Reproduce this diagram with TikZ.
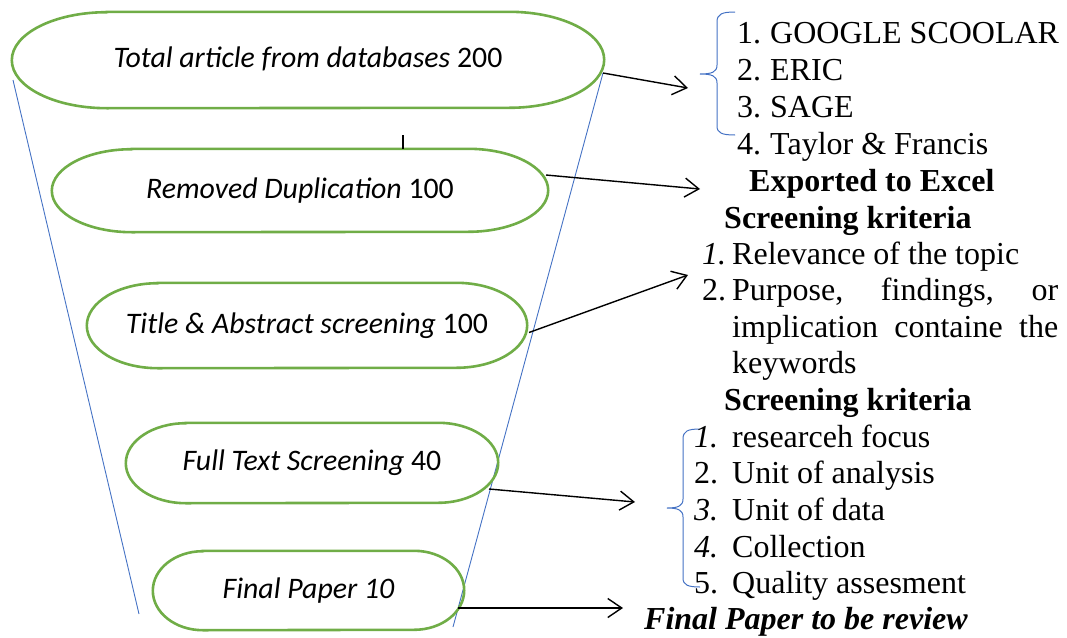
\documentclass[tikz,border=0pt]{standalone}
\usepackage{fontspec}
\setmainfont{Liberation Serif}
\newfontfamily\calfont{Carlito}
\usetikzlibrary{arrows.meta,calc}
\definecolor{tgreen}{HTML}{70AD47}
\definecolor{tblue}{HTML}{4472C4}
% terminator outline around an invisible rectangle node: name, x radius, y radius
\newcommand\drawterm[3]{%
  \draw[termline] ($(#1.north west)+(#2,0)$) -- ($(#1.north east)+(-#2,0)$)
    arc[start angle=-90,end angle=90,x radius=#2,y radius=#3]
    -- ($(#1.south west)+(#2,0)$)
    arc[start angle=90,end angle=270,x radius=#2,y radius=#3] -- cycle;}
\begin{document}
\begin{tikzpicture}[x=1pt,y=-1pt,
  termline/.style={draw=tgreen,line width=2.6pt},
  termbox/.style={inner sep=0pt,font=\calfont\fontsize{29.8}{34}\selectfont},
  funnel/.style={draw=tblue,line width=0.9pt},
  bracepath/.style={draw=tblue,line width=1pt},
  conn/.style={draw=black,line width=1.4pt,-{Straight Barb[length=14pt,width=19pt]}},
  stubline/.style={draw=black,line width=1.4pt},
  txt/.style={anchor=base west,inner sep=0pt,font=\fontsize{32}{37}\selectfont}]
\useasboundingbox (0,0) rectangle (1067,637);

% funnel
\coordinate (fl1) at (13,80);
\coordinate (fl2) at (139,614);
\coordinate (fr1) at (603,73);
\coordinate (fr2) at (453,627);
\draw[funnel] (fl1) -- (fl2);
\draw[funnel] (fr1) -- (fr2);

% stages
\node[termbox,minimum width=592pt,minimum height=96pt] (e1) at (308,60)
  {\raisebox{5pt}{\textit{Total article from databases} 200}};
\node[termbox,minimum width=496pt,minimum height=83pt] (e2) at (300,190.5)
  {\textit{Removed Duplication} 100};
\node[termbox,minimum width=440pt,minimum height=85pt] (e3) at (307,325.5)
  {\textit{Title \& Abstract screening} 100};
\node[termbox,minimum width=372pt,minimum height=80pt] (e4) at (312,463)
  {\textit{Full Text Screening} 40};
\node[termbox,minimum width=311pt,minimum height=79pt] (e5) at (308.5,590.5)
  {\textit{Final Paper 10}};
\drawterm{e1}{95}{48}
\drawterm{e2}{80}{41.5}
\drawterm{e3}{71}{42.5}
\drawterm{e4}{60}{40}
\drawterm{e5}{50}{39.5}

% stub above second stage
\coordinate (s1) at (403,135);
\draw[stubline] (s1) -- (e2.north -| s1);

% arrows
\coordinate (t1) at (688,88);
\coordinate (t2) at (700,189);
\coordinate (t3) at (688,275);
\coordinate (t4) at (635,502);
\coordinate (t5) at (623,608);
\draw[conn] ($(e1.center)+(295,13)$) -- (t1);
\draw[conn] ($(e2.center)+(246,-15.5)$) -- (t2);
\draw[conn] ($(e3.center)+(222,7)$) -- (t3);
\draw[conn] ($(e4.center)+(177,26)$) -- (t4);
\draw[conn] ($(e5.center)+(149.5,17.5)$) -- (t5);

% braces
\draw[bracepath] (735,12) .. controls (722,12) and (717,14) .. (717,22) -- (717,65)
  .. controls (717,72) and (712,74) .. (700,74)
  .. controls (712,74) and (717,76) .. (717,83) -- (717,126)
  .. controls (717,133) and (722,135) .. (735,135);
\draw[bracepath] (700,429) .. controls (688,429) and (683,431) .. (683,439) -- (683,499)
  .. controls (683,506) and (678,508) .. (667,508)
  .. controls (678,508) and (683,510) .. (683,517) -- (683,578)
  .. controls (683,585) and (688,587) .. (700,587);

% text on the right
\node[txt] (g1) at (737,43) {\makebox[33pt][l]{1.}GOOGLE SCOOLAR};
\node[txt] (g2) at (737,80) {\makebox[33pt][l]{2.}ERIC};
\node[txt] (g3) at (737,117) {\makebox[33pt][l]{3.}SAGE};
\node[txt] (g4) at (737,154) {\makebox[33pt][l]{4.}Taylor \& Francis};
\node[txt] (ex) at (749,191) {\textbf{Exported to Excel}};
\node[txt] (sk1) at (724,228) {\textbf{Screening kriteria}};
\node[txt] (r1) at (702,264) {\makebox[30pt][l]{\textit{1.}}Relevance of the topic};
\node[txt] (r2) at (702,300) {\makebox[30pt][l]{2.}\hbox to 326pt{Purpose,\hfill findings,\hfill or}};
\node[txt] (r3) at (732,337) {\hbox to 326pt{implication\hfill containe\hfill the}};
\node[txt] (r4) at (732,373) {keywords};
\node[txt] (sk2) at (724,410) {\textbf{Screening kriteria}};
\node[txt] (f1) at (694,447) {\makebox[38pt][l]{\textit{1.}}researceh focus};
\node[txt] (f2) at (694,483) {\makebox[38pt][l]{2.}Unit of analysis};
\node[txt] (f3) at (694,520) {\makebox[38pt][l]{\textit{3.}}Unit of data};
\node[txt] (f4) at (694,557) {\makebox[38pt][l]{\textit{4.}}Collection};
\node[txt] (f5) at (694,593) {\makebox[38pt][l]{5.}Quality assesment};
\node[txt] (fin) at (644,629) {\textbf{\textit{Final Paper to be review}}};
\end{tikzpicture}
\end{document}
